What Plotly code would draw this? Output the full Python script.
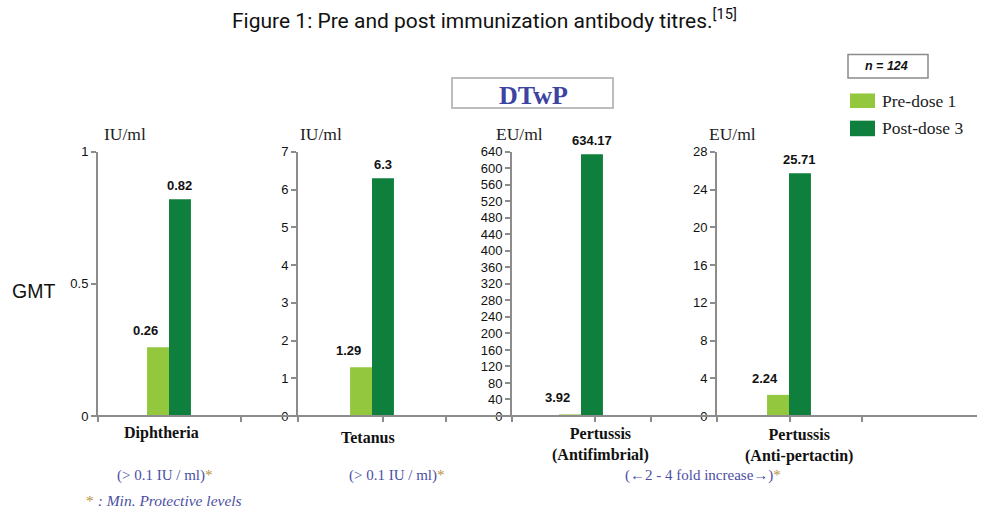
import plotly.graph_objects as go

# ---------------- data ----------------
categories = ["Diphtheria", "Tetanus", "Pertussis<br>(Antifimbrial)", "Pertussis<br>(Anti-pertactin)"]
units = ["IU/ml", "IU/ml", "EU/ml", "EU/ml"]
pre_dose1 = [0.26, 1.29, 3.92, 2.24]
post_dose3 = [0.82, 6.3, 634.17, 25.71]
pre_labels = ["0.26", "1.29", "3.92", "2.24"]
post_labels = ["0.82", "6.3", "634.17", "25.71"]
y_max = [1, 7, 640, 28]
y_dtick = [0.5, 1, 40, 4]
protective = ["(&gt; 0.1 IU / ml)", "(&gt; 0.1 IU / ml)", "(<b>\u2190</b>2 - 4 fold increase<b>\u2192</b>)"]
series_names = ["Pre-dose 1", "Post-dose 3"]

# ---------------- geometry (pixels) ----------------
W_PX, H_PX = 984, 527
axis_px = [98, 298, 512, 717]
center_px = [169, 372, 581, 789]
end_px = [241, 446, 651, 862]
mid_tick_px = [None, 383, 595, 790]
Y_TOP, Y_BOT = 149, 421
U = 100.0          # pixels per x unit
BAR_W = 0.22       # x units (22 px)

LIGHT = "#93C83E"
DARK = "#0E7F3C"
AXIS = "#8C8C8C"
BLUE = "#4B4FA3"
GOLD = "#B8913E"
SERIF = "Liberation Serif"
SANS = "Liberation Sans"


def px(x):
    return x / W_PX


def py(y):
    return 1 - y / H_PX


fig = go.Figure()
annotations = []
shapes = []

for i in range(4):
    k = "" if i == 0 else str(i + 1)
    xa, ya = "x" + k, "y" + k
    fig.add_trace(go.Bar(x=[0], y=[pre_dose1[i]], width=[BAR_W], offset=-BAR_W,
                         marker=dict(color=LIGHT, line=dict(width=0)),
                         name=series_names[0], showlegend=False, xaxis=xa, yaxis=ya))
    fig.add_trace(go.Bar(x=[0], y=[post_dose3[i]], width=[BAR_W], offset=0,
                         marker=dict(color=DARK, line=dict(width=0)),
                         name=series_names[1], showlegend=False, xaxis=xa, yaxis=ya))
    lo = (axis_px[i] - center_px[i]) / U
    hi = (end_px[i] - center_px[i]) / U
    tv = [lo, hi]
    if mid_tick_px[i] is not None:
        tv.append((mid_tick_px[i] - center_px[i]) / U)
    fig.layout["xaxis" + k] = dict(
        domain=[px(axis_px[i]), px(end_px[i])], range=[lo - 0.002, hi + 0.002],
        anchor=ya, showline=False, showgrid=False, zeroline=False,
        ticks="outside", tickvals=tv, ticklen=5, tickwidth=2, tickcolor=AXIS,
        showticklabels=False, fixedrange=True)
    fig.layout["yaxis" + k] = dict(
        domain=[py(Y_BOT), py(Y_TOP)], range=[0, y_max[i]], dtick=y_dtick[i],
        anchor=xa, showline=True, linecolor=AXIS, linewidth=2, showgrid=False,
        zeroline=False, ticks="outside", ticklen=5, tickwidth=1.5, tickcolor=AXIS,
        tickfont=dict(family=SANS, size=13, color="#111"), fixedrange=True)
    # value labels
    annotations.append(dict(x=-BAR_W / 2, y=pre_dose1[i], xref=xa, yref=ya,
                            text="<b>" + pre_labels[i] + "</b>", showarrow=False,
                            yanchor="bottom", xshift=-13, yshift=7,
                            font=dict(family=SANS, size=13, color="#111")))
    annotations.append(dict(x=BAR_W / 2, y=post_dose3[i], xref=xa, yref=ya,
                            text="<b>" + post_labels[i] + "</b>", showarrow=False,
                            yanchor="bottom", yshift=4,
                            font=dict(family=SANS, size=13, color="#111")))

# units above axes
unit_px = [102, 298, 494, 707]
for i in range(4):
    annotations.append(dict(x=px(unit_px[i]), y=py(131), xref="paper", yref="paper",
                            text=units[i], showarrow=False, xanchor="left", yanchor="middle",
                            font=dict(family=SERIF, size=17.5, color="#222")))

# category labels (top of first line)
cat_pos = [(161, 427), (368, 432), (600, 428), (799, 429)]
for i in range(4):
    cx, yy = cat_pos[i]
    annotations.append(dict(x=px(cx), y=py(yy), xref="paper", yref="paper",
                            text="<b>" + categories[i].replace("<br>", "</b><br><b>") + "</b>",
                            showarrow=False, xanchor="center", yanchor="top",
                            font=dict(family=SERIF, size=16, color="#111")))

# protective levels
prot_x = [165, 397, 703]
for i in range(3):
    annotations.append(dict(x=px(prot_x[i]), y=py(482), xref="paper", yref="paper",
                            text="<span style='color:%s'>%s</span><span style='color:%s'>*</span>"
                                 % (BLUE, protective[i], GOLD),
                            showarrow=False, xanchor="center", yanchor="middle",
                            font=dict(family=SERIF, size=15)))
annotations.append(dict(x=px(84), y=py(508), xref="paper", yref="paper",
                        text="<span style='color:%s'>*</span><i><span style='color:%s'> : Min. Protective levels</span></i>"
                             % (GOLD, BLUE),
                        showarrow=False, xanchor="left", yanchor="middle",
                        font=dict(family=SERIF, size=15.5)))

# title
annotations.append(dict(x=px(484), y=py(12), xref="paper", yref="paper",
                        text="Figure 1: Pre and post immunization antibody titres.<sup>[15]</sup>",
                        showarrow=False, xanchor="center", yanchor="middle",
                        font=dict(family="Roboto", size=21, color="#111")))
# GMT
annotations.append(dict(x=px(10), y=py(292), xref="paper", yref="paper", text="GMT",
                        showarrow=False, xanchor="left", yanchor="middle",
                        font=dict(family=SANS, size=19.5, color="#111")))

# DTwP box
shapes.append(dict(type="rect", xref="paper", yref="paper", x0=px(452), x1=px(613),
                   y0=py(104), y1=py(73), line=dict(color="#BDBDBD", width=2)))
annotations.append(dict(x=px(533), y=py(91), xref="paper", yref="paper", text="<b>DTwP</b>",
                        showarrow=False, xanchor="center", yanchor="middle",
                        font=dict(family=SERIF, size=26, color="#3C43A0")))

# n = 124 box
shapes.append(dict(type="rect", xref="paper", yref="paper", x0=px(848), x1=px(928),
                   y0=py(73), y1=py(49), line=dict(color="#8A8A8A", width=1.5)))
annotations.append(dict(x=px(886), y=py(61), xref="paper", yref="paper", text="<b><i>n = 124</i></b>",
                        showarrow=False, xanchor="center", yanchor="middle",
                        font=dict(family=SANS, size=12.5, color="#111")))

# legend
leg = [(LIGHT, 89, 104, series_names[0]), (DARK, 117, 133, series_names[1])]
for col, y0, y1, name in leg:
    shapes.append(dict(type="rect", xref="paper", yref="paper", x0=px(850), x1=px(875),
                       y0=py(y1), y1=py(y0), fillcolor=col, line=dict(width=0)))
    annotations.append(dict(x=px(880), y=py((y0 + y1) / 2), xref="paper", yref="paper",
                            text=name, showarrow=False, xanchor="left", yanchor="middle",
                            font=dict(family=SERIF, size=17.5, color="#222")))

# baseline
shapes.append(dict(type="line", xref="paper", yref="paper", x0=px(93), x1=px(977),
                   y0=py(Y_BOT), y1=py(Y_BOT), line=dict(color=AXIS, width=2)))

fig.update_layout(width=W_PX, height=H_PX, margin=dict(l=0, r=0, t=0, b=0),
                  paper_bgcolor="white", plot_bgcolor="white", barmode="overlay",
                  showlegend=False, annotations=annotations, shapes=shapes)

post = ("document.documentElement.style.margin='0';document.body.style.margin='0';"
        "document.body.style.overflow='hidden';"
        "var g=document.querySelector('.plotly-graph-div');"
        "g.style.position='fixed';g.style.top='0';g.style.left='0';")
fig.write_html("out.html", config={"displayModeBar": False}, post_script=post)
